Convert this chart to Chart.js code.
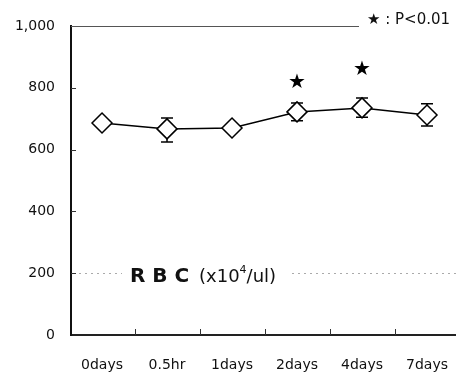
<!DOCTYPE html>
<html>
<head>
<meta charset="utf-8">
<script src="https://cdn.jsdelivr.net/npm/chart.js@4"></script>
<style>
  html, body { margin: 0; padding: 0; background: #fff; }
  #wrap { width: 456px; height: 376px; }
</style>
</head>
<body>
<div id="wrap"><canvas id="c" width="456" height="376"></canvas></div>
<script>
const categories = ["0days", "0.5hr", "1days", "2days", "4days", "7days"];
const rbcMean = [686, 667, 670, 722, 735, 712];
const rbcHigh = [694, 702, 678, 751, 767, 748];
const rbcLow  = [678, 625, 662, 693, 705, 676];
const starValues = [null, null, null, 816, 858, null];
const yTicks = [0, 200, 400, 600, 800, 1000];
const legendText = "★ : P<0.01";

const FONT = "'DejaVu Sans', Verdana, sans-serif";

const decorPlugin = {
  id: 'decor',
  beforeDatasetsDraw(chart) {
    const { ctx, chartArea: ca, scales: { x, y } } = chart;
    ctx.save();
    // top line at 1000
    const yTop = Math.round(y.getPixelForValue(1000)) + 0.5;
    ctx.strokeStyle = '#555';
    ctx.lineWidth = 1;
    ctx.beginPath();
    ctx.moveTo(ca.left, yTop);
    ctx.lineTo(359, yTop);
    ctx.stroke();
    // dotted gridline at 200
    const y200 = Math.round(y.getPixelForValue(200)) + 0.5;
    ctx.strokeStyle = '#aaa';
    ctx.setLineDash([2, 4]);
    ctx.beginPath();
    ctx.moveTo(ca.left + 8, y200); ctx.lineTo(122, y200);
    ctx.moveTo(292, y200); ctx.lineTo(ca.right, y200);
    ctx.stroke();
    ctx.setLineDash([]);
    // inward x ticks at category boundaries
    ctx.strokeStyle = '#333';
    ctx.lineWidth = 1;
    ctx.beginPath();
    for (let i = 0; i < categories.length - 1; i++) {
      const px = Math.round(x.getPixelForValue(i + 0.5)) + 0.5;
      ctx.moveTo(px, ca.bottom);
      ctx.lineTo(px, ca.bottom - 6);
    }
    // inward y ticks
    yTicks.forEach(v => {
      if (v === 0 || v === 1000) return;
      const py = Math.round(y.getPixelForValue(v)) + 0.5;
      ctx.moveTo(ca.left, py);
      ctx.lineTo(ca.left + 5, py);
    });
    ctx.stroke();
    // error bars
    ctx.strokeStyle = '#000';
    ctx.lineWidth = 1.5;
    ctx.beginPath();
    for (let i = 0; i < categories.length; i++) {
      const px = x.getPixelForValue(i);
      const ph = y.getPixelForValue(rbcHigh[i]);
      const pl = y.getPixelForValue(rbcLow[i]);
      ctx.moveTo(px, ph); ctx.lineTo(px, pl);
      ctx.moveTo(px - 6, ph); ctx.lineTo(px + 6, ph);
      ctx.moveTo(px - 6, pl); ctx.lineTo(px + 6, pl);
    }
    ctx.stroke();
    ctx.restore();
  },
  afterDatasetsDraw(chart) {
    const { ctx, scales: { x, y } } = chart;
    ctx.save();
    ctx.fillStyle = '#000';
    ctx.textAlign = 'center';
    ctx.textBaseline = 'middle';
    ctx.font = "20px " + FONT;
    starValues.forEach((v, i) => {
      if (v == null) return;
      ctx.fillText('★', x.getPixelForValue(i), y.getPixelForValue(v));
    });
    // legend
    ctx.textAlign = 'left';
    ctx.textBaseline = 'middle';
    ctx.font = "15px " + FONT;
    ctx.fillStyle = '#111';
    ctx.fillText(legendText, 367, 20);
    // title
    ctx.textBaseline = 'alphabetic';
    ctx.font = "bold 20px " + FONT;
    ctx.fillStyle = '#111';
    ctx.fillText('R B C', 130, 282);
    ctx.font = "18px " + FONT;
    ctx.fillText('(x10', 199, 282);
    const w = ctx.measureText('(x10').width;
    ctx.font = "11px " + FONT;
    ctx.fillText('4', 199 + w, 273);
    const w2 = ctx.measureText('4').width;
    ctx.font = "18px " + FONT;
    ctx.fillText('/ul)', 199 + w + w2, 282);
    ctx.restore();
  }
};

new Chart(document.getElementById('c'), {
  type: 'line',
  data: {
    datasets: [{
      data: rbcMean.map((v, i) => ({ x: i, y: v })),
      borderColor: '#000',
      borderWidth: 1.5,
      backgroundColor: '#fff',
      pointStyle: 'rectRot',
      pointRadius: 10,
      pointBorderWidth: 1.5,
      pointBackgroundColor: '#fff',
      pointBorderColor: '#000',
      tension: 0,
      clip: false
    }]
  },
  options: {
    responsive: false,
    animation: false,
    events: [],
    layout: { autoPadding: false, padding: { top: 26, right: 0, left: 0, bottom: 0 } },
    plugins: { legend: { display: false }, tooltip: { enabled: false } },
    scales: {
      x: {
        type: 'linear',
        min: -0.477,
        max: 5.446,
        afterBuildTicks(scale) { scale.ticks = categories.map((c, i) => ({ value: i })); },
        afterFit(scale) { scale.height = 41; scale.paddingLeft = 0; scale.paddingRight = 0; },
        ticks: {
          callback: (v) => categories[v],
          font: { family: FONT, size: 14 },
          color: '#111',
          padding: 22,
          maxRotation: 0,
          autoSkip: false
        },
        grid: { drawOnChartArea: false, drawTicks: false },
        border: { display: true, color: '#222', width: 2 }
      },
      y: {
        min: 0,
        max: 1000,
        afterBuildTicks(scale) { scale.ticks = yTicks.map(v => ({ value: v })); },
        afterFit(scale) { scale.width = 71; },
        ticks: {
          font: { family: FONT, size: 14 },
          color: '#111',
          padding: 16
        },
        grid: { drawOnChartArea: false, drawTicks: false },
        border: { display: true, color: '#111', width: 2 }
      }
    }
  },
  plugins: [decorPlugin]
});
</script>
</body>
</html>
